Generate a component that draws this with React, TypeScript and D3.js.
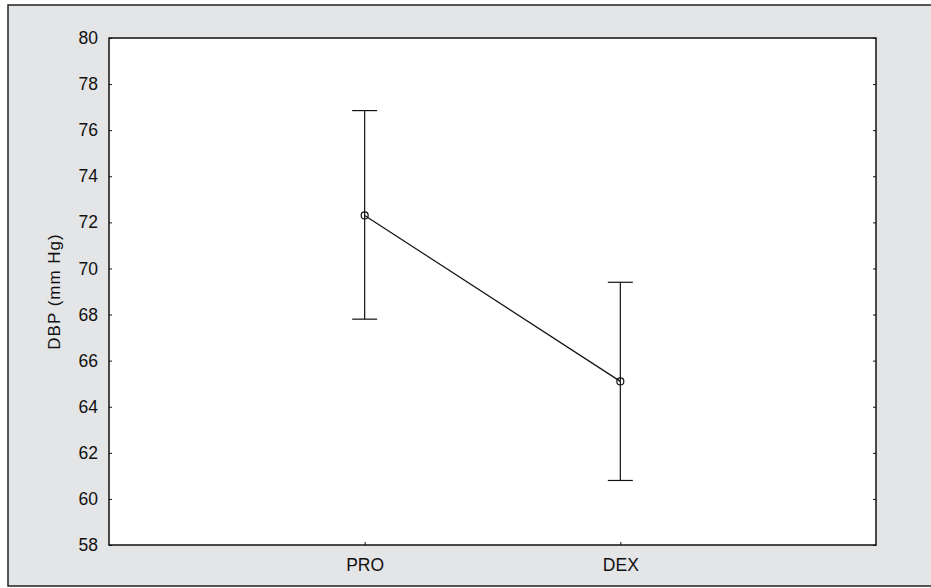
import * as d3 from 'd3';
import React, { useEffect, useRef } from 'react';

// values
const groups = ['PRO', 'DEX'];
const means = [72.3, 65.1];
const upper = [76.85, 69.4];
const lower = [67.8, 60.8];
const yTicks = [58, 60, 62, 64, 66, 68, 70, 72, 74, 76, 78, 80];

const W = 931;
const H = 588;

export default function App() {
  const ref = useRef<SVGSVGElement>(null);

  useEffect(() => {
    const svg = d3.select(ref.current);
    svg.selectAll('*').remove();

    const margin = { top: 38, right: 55, bottom: 43, left: 109 };
    const x = d3.scaleLinear().domain([0, groups.length + 1]).range([margin.left, W - margin.right]);
    const y = d3.scaleLinear().domain([58, 80]).range([H - margin.bottom, margin.top]);
    const font = 'Liberation Sans, Arial, sans-serif';

    // outer panel
    svg.append('rect').attr('x', 0).attr('y', 0).attr('width', W).attr('height', H).attr('fill', '#fff');
    svg.append('rect')
      .attr('x', 8).attr('y', 5).attr('width', W).attr('height', 581)
      .attr('fill', '#e4e5e7').attr('stroke', '#222').attr('stroke-width', 1.5);

    // plot area
    svg.append('rect')
      .attr('x', x.range()[0]).attr('y', y.range()[1])
      .attr('width', x.range()[1] - x.range()[0]).attr('height', y.range()[0] - y.range()[1])
      .attr('fill', '#fff').attr('stroke', '#111').attr('stroke-width', 1.5);

    // left axis ticks (inward) + labels
    const yAxis = d3.axisLeft(y).tickValues(yTicks).tickSizeInner(-3).tickSizeOuter(0).tickPadding(11);
    const gl = svg.append('g').attr('transform', `translate(${x.range()[0]},0)`).call(yAxis);
    gl.select('.domain').remove();
    gl.selectAll('text').attr('font-family', font).attr('font-size', 17.5).attr('fill', '#111');
    gl.selectAll('line').attr('stroke', '#111');

    // right axis ticks (inward)
    const gr = svg.append('g').attr('transform', `translate(${x.range()[1]},0)`)
      .call(d3.axisRight(y).tickValues(yTicks).tickSizeInner(-3).tickSizeOuter(0).tickFormat(() => ''));
    gr.select('.domain').remove();
    gr.selectAll('line').attr('stroke', '#111');

    // bottom axis
    const gb = svg.append('g').attr('transform', `translate(0,${y.range()[0]})`)
      .call(d3.axisBottom(x).tickValues(groups.map((_, i) => i + 1))
        .tickFormat((d) => groups[(d as number) - 1]).tickSizeInner(-3).tickSizeOuter(0).tickPadding(14));
    gb.select('.domain').remove();
    gb.selectAll('text').attr('font-family', font).attr('font-size', 17.5).attr('fill', '#111');
    gb.selectAll('line').attr('stroke', '#111');

    // y label
    svg.append('text')
      .attr('transform', `translate(60,${(y.range()[0] + y.range()[1]) / 2}) rotate(-90)`)
      .attr('text-anchor', 'middle')
      .attr('font-family', font).attr('font-size', 17).attr('letter-spacing', 1).attr('fill', '#111')
      .text('DBP (mm Hg)');

    // error bars
    const cap = 12.5;
    groups.forEach((g, i) => {
      const cx = x(i + 1);
      svg.append('line').attr('x1', cx).attr('x2', cx).attr('y1', y(upper[i])).attr('y2', y(lower[i]))
        .attr('stroke', '#111').attr('stroke-width', 1.2);
      [upper[i], lower[i]].forEach((v) => {
        svg.append('line').attr('x1', cx - cap).attr('x2', cx + cap).attr('y1', y(v)).attr('y2', y(v))
          .attr('stroke', '#111').attr('stroke-width', 1.2);
      });
    });

    // mean line
    const line = d3.line<number>().x((_, i) => x(i + 1)).y((d) => y(d));
    svg.append('path').datum(means).attr('d', line).attr('fill', 'none').attr('stroke', '#111').attr('stroke-width', 1.2);

    svg.selectAll('.dot').data(means).enter().append('circle')
      .attr('class', 'dot')
      .attr('cx', (_, i) => x(i + 1)).attr('cy', (d) => y(d)).attr('r', 3.5)
      .attr('fill', 'none').attr('stroke', '#111').attr('stroke-width', 1.2);
  }, []);

  return (
    <div style={{ position: 'fixed', left: 0, top: 0 }}>
      <svg ref={ref} width={W} height={H} style={{ display: 'block' }} />
    </div>
  );
}
